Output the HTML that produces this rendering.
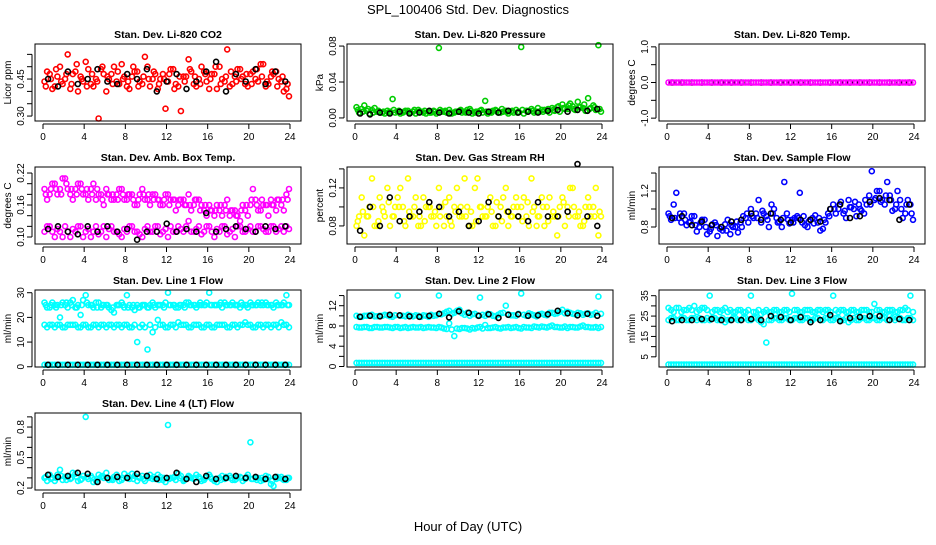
<!DOCTYPE html>
<html><head><meta charset="utf-8">
<style>
html,body{margin:0;padding:0;background:#fff;}
svg text{font-family:"Liberation Sans",Arial,sans-serif;}
</style></head>
<body>
<svg id="chart" width="936" height="540" viewBox="0 0 936 540" xmlns="http://www.w3.org/2000/svg">
<rect x="0" y="0" width="936" height="540" fill="#fff"/>
<text x="468" y="14" font-size="13" text-anchor="middle">SPL_100406  Std. Dev. Diagnostics</text>
<text x="468" y="531" font-size="13" text-anchor="middle">Hour of Day (UTC)</text>
</svg>
<script>
// ---- data ----
const xTicks = [0,4,8,12,16,20,24];
const co2Red1 = [0.44,0.47,0.42,0.50,0.45,0.41,0.48,0.46,0.52,0.43,0.45,0.49,0.40,0.47,0.44,0.51,0.42,0.46,0.48,0.43,0.50,0.45,0.41,0.47,0.44,0.49,0.42,0.46,0.53,0.43,0.45,0.48,0.41,0.47,0.50,0.44,0.42,0.46,0.49,0.43,0.47,0.45,0.51,0.42,0.46,0.48,0.44,0.41];
const co2Red2 = [0.48,0.41,0.46,0.43,0.55,0.47,0.40,0.44,0.49,0.42,0.29,0.47,0.45,0.50,0.43,0.46,0.41,0.48,0.44,0.54,0.42,0.47,0.45,0.33,0.49,0.43,0.32,0.46,0.48,0.42,0.50,0.44,0.47,0.41,0.45,0.57,0.43,0.49,0.46,0.42,0.48,0.44,0.51,0.43,0.47,0.45,0.40,0.38];
const co2Red3 = [0.42,0.45,0.49,0.44,0.47,0.43,0.51,0.45,0.42,0.47,0.44,0.50,0.46,0.43,0.48,0.45,0.44,0.50,0.42,0.46,0.45,0.48,0.43,0.45,0.47,0.41,0.46,0.44,0.49,0.46,0.43,0.47,0.45,0.50,0.43,0.46,0.48,0.44,0.45,0.47,0.43,0.49,0.46,0.44,0.48,0.42,0.46,0.43];
const co2Black = [0.45,0.42,0.48,0.43,0.45,0.49,0.44,0.43,0.47,0.45,0.49,0.40,0.44,0.47,0.41,0.44,0.48,0.52,0.40,0.47,0.44,0.49,0.43,0.48,0.44];
const presGreen1 = [0.012,0.010,0.008,0.009,0.007,0.006,0.008,0.021,0.007,0.006,0.008,0.007,0.009,0.006,0.007,0.008,0.078,0.007,0.009,0.006,0.008,0.007,0.010,0.006,0.008,0.019,0.007,0.009,0.006,0.008,0.007,0.009,0.079,0.008,0.010,0.007,0.009,0.008,0.011,0.012,0.015,0.010,0.013,0.018,0.011,0.022,0.014,0.081];
const presGreen2 = [0.006,0.014,0.005,0.011,0.006,0.005,0.007,0.006,0.005,0.008,0.006,0.005,0.007,0.005,0.006,0.005,0.007,0.006,0.005,0.007,0.006,0.009,0.005,0.007,0.006,0.005,0.008,0.006,0.007,0.005,0.006,0.007,0.005,0.008,0.006,0.007,0.009,0.006,0.008,0.007,0.010,0.016,0.009,0.012,0.008,0.011,0.009,0.007];
const presGreen3 = [0.009,0.007,0.010,0.006,0.008,0.007,0.006,0.009,0.008,0.007,0.006,0.009,0.007,0.008,0.006,0.007,0.009,0.008,0.006,0.007,0.009,0.006,0.008,0.007,0.009,0.007,0.006,0.008,0.010,0.007,0.008,0.006,0.009,0.007,0.008,0.011,0.007,0.010,0.009,0.013,0.011,0.014,0.010,0.012,0.015,0.010,0.012,0.010];
const presBlack = [0.005,0.004,0.006,0.005,0.007,0.005,0.006,0.008,0.006,0.005,0.007,0.006,0.005,0.007,0.006,0.008,0.006,0.007,0.006,0.008,0.009,0.007,0.009,0.008,0.010];
const tempMag = [0,0,0,0,0,0,0,0,0,0,0,0,0,0,0,0,0,0,0,0,0,0,0,0,0,0,0,0,0,0,0,0,0,0,0,0,0,0,0,0,0,0,0,0,0,0,0,0];
const tempBlack = [0,0,0,0,0,0,0,0,0,0,0,0,0,0,0,0,0,0,0,0,0,0,0,0,0];
const ambMag1 = [0.19,0.18,0.20,0.19,0.21,0.18,0.19,0.20,0.18,0.19,0.17,0.18,0.19,0.17,0.18,0.19,0.17,0.18,0.16,0.19,0.17,0.18,0.17,0.16,0.18,0.17,0.16,0.17,0.18,0.16,0.17,0.15,0.16,0.14,0.15,0.16,0.14,0.15,0.13,0.15,0.16,0.17,0.15,0.16,0.17,0.15,0.16,0.18];
const ambMag2 = [0.17,0.20,0.18,0.21,0.19,0.17,0.20,0.18,0.17,0.20,0.18,0.16,0.18,0.17,0.19,0.17,0.18,0.16,0.18,0.17,0.16,0.18,0.16,0.18,0.17,0.15,0.17,0.16,0.15,0.17,0.16,0.14,0.15,0.16,0.14,0.17,0.15,0.14,0.16,0.14,0.19,0.15,0.16,0.14,0.16,0.17,0.15,0.19];
const ambMag4 = [0.18,0.19,0.19,0.18,0.20,0.19,0.18,0.19,0.19,0.18,0.19,0.17,0.18,0.18,0.17,0.18,0.18,0.17,0.17,0.18,0.18,0.17,0.17,0.17,0.16,0.17,0.17,0.16,0.16,0.17,0.15,0.16,0.15,0.15,0.16,0.15,0.15,0.14,0.15,0.16,0.17,0.16,0.17,0.16,0.16,0.17,0.17,0.17];
const ambMag3 = [0.11,0.12,0.10,0.11,0.12,0.10,0.11,0.12,0.11,0.10,0.12,0.11,0.10,0.12,0.11,0.10,0.11,0.12,0.11,0.10,0.12,0.11,0.12,0.11,0.10,0.11,0.12,0.11,0.13,0.11,0.12,0.11,0.12,0.10,0.11,0.12,0.11,0.10,0.12,0.11,0.12,0.11,0.12,0.11,0.12,0.11,0.12,0.12];
const ambMag5 = [0.12,0.11,0.115,0.10,0.11,0.115,0.12,0.10,0.115,0.11,0.105,0.12,0.115,0.11,0.105,0.115,0.12,0.11,0.105,0.115,0.11,0.12,0.105,0.115,0.12,0.11,0.115,0.12,0.11,0.115,0.105,0.12,0.11,0.115,0.12,0.105,0.115,0.12,0.11,0.115,0.11,0.12,0.115,0.11,0.12,0.115,0.11,0.115];
const ambBlack = [0.115,0.12,0.11,0.105,0.12,0.11,0.12,0.11,0.115,0.095,0.11,0.11,0.125,0.11,0.115,0.11,0.145,0.11,0.115,0.12,0.115,0.11,0.12,0.115,0.12];
const rhYel1 = [0.08,0.11,0.09,0.13,0.08,0.10,0.12,0.09,0.11,0.10,0.13,0.09,0.08,0.11,0.10,0.09,0.12,0.08,0.11,0.10,0.09,0.13,0.08,0.12,0.10,0.09,0.11,0.08,0.10,0.12,0.09,0.11,0.10,0.09,0.13,0.08,0.11,0.10,0.09,0.07,0.11,0.10,0.12,0.09,0.08,0.11,0.10,0.07];
const rhYel2 = [0.09,0.07,0.10,0.08,0.11,0.09,0.08,0.10,0.12,0.08,0.09,0.11,0.08,0.10,0.09,0.08,0.10,0.09,0.08,0.12,0.09,0.10,0.08,0.13,0.09,0.10,0.08,0.09,0.11,0.08,0.10,0.09,0.11,0.08,0.10,0.09,0.08,0.11,0.09,0.10,0.08,0.12,0.09,0.08,0.10,0.09,0.12,0.09];
const rhYel3 = [0.085,0.095,0.09,0.10,0.085,0.095,0.105,0.09,0.10,0.085,0.095,0.10,0.09,0.085,0.10,0.095,0.09,0.105,0.085,0.095,0.10,0.09,0.095,0.085,0.10,0.09,0.095,0.105,0.085,0.095,0.09,0.10,0.085,0.105,0.095,0.09,0.10,0.085,0.095,0.09,0.105,0.09,0.10,0.095,0.085,0.10,0.09,0.095];
const rhBlack = [0.075,0.10,0.08,0.11,0.085,0.09,0.095,0.105,0.10,0.09,0.095,0.08,0.085,0.105,0.09,0.095,0.09,0.085,0.105,0.09,0.09,0.095,0.145,0.09,0.08];
const sfBlue1 = [0.95,1.05,0.90,0.95,0.85,0.92,0.80,0.88,0.75,0.85,0.78,0.83,0.72,0.80,0.85,0.90,1.00,0.95,0.85,0.92,1.05,0.90,0.80,0.95,0.88,0.92,0.85,0.80,0.90,0.85,0.78,0.95,1.05,1.00,0.95,1.10,1.00,1.05,0.95,1.15,1.10,1.20,1.05,1.15,1.00,1.10,0.95,1.05];
const sfBlue2 = [0.88,1.18,0.85,0.82,0.92,0.75,0.88,0.72,0.83,0.70,0.76,0.88,0.80,0.74,0.92,0.85,0.90,1.10,0.95,0.80,1.00,0.86,1.30,0.84,0.90,1.18,0.82,0.88,0.93,0.76,0.85,1.00,0.95,1.08,0.90,1.02,0.92,0.98,1.05,1.42,1.20,1.10,1.30,0.98,1.20,0.90,1.10,0.88];
const sfBlue3 = [0.92,0.90,0.95,0.88,0.86,0.82,0.85,0.80,0.78,0.82,0.80,0.76,0.82,0.86,0.80,0.95,0.92,0.90,0.98,0.88,0.95,0.85,0.90,0.88,0.85,0.90,0.92,0.86,0.84,0.90,0.88,0.92,1.00,1.05,0.98,1.02,1.08,1.00,1.10,1.05,1.12,1.08,1.15,1.10,1.05,1.00,1.05,0.95];
const sfBlack = [0.90,0.92,0.82,0.86,0.82,0.80,0.86,0.88,0.95,0.88,0.95,0.88,0.85,0.88,0.88,0.86,1.00,1.05,0.90,0.92,1.08,1.12,1.10,0.88,1.05];
const l1Cyan1 = [26,24,25,20,25,26,24,21,29,25,26,24,25,23,25,26,29,24,25,25,24,26,25,25,30,25,24,25,26,25,25,25,30,25,25,26,25,25,24,25,26,25,25,26,25,26,25,29];
const l1Cyan2 = [24,26,25,26,24,27,25,27,25,24,26,25,24,22,25,24,25,23,24,25,25,24,25,26,25,24,25,26,25,24,25,26,25,25,24,25,26,25,25,24,25,26,25,25,24,25,26,25];
const l1Cyan5 = [25,25,24,25,26,25,24,25,26,25,24,25,25,24,25,25,24,25,24,25,24,25,25,24,25,25,25,24,25,25,26,25,25,25,26,25,25,25,26,25,25,25,26,25,25,25,25,25];
const l1Cyan3 = [17,17,16,17,16,17,17,16,17,16,17,17,16,17,17,16,17,16,10,17,7,14,19,17,16,17,18,17,16,17,17,16,17,16,17,17,16,17,17,18,17,16,17,17,16,17,18,17];
const l1Cyan6 = [16,17,17,16,17,17,16,17,16,17,16,17,17,16,17,17,16,17,16,16,17,16,17,16,17,16,17,17,16,17,16,17,16,17,17,16,17,16,17,17,16,17,16,17,17,16,17,16];
const l1Cyan4 = [0.8,0.8,0.8,0.8,0.8,0.8,0.8,0.8,0.8,0.8,0.8,0.8,0.8,0.8,0.8,0.8,0.8,0.8,0.8,0.8,0.8,0.8,0.8,0.8,0.8,0.8,0.8,0.8,0.8,0.8,0.8,0.8,0.8,0.8,0.8,0.8,0.8,0.8,0.8,0.8,0.8,0.8,0.8,0.8,0.8,0.8,0.8,0.8];
const l1Black = [0.8,0.8,0.8,0.8,0.8,0.8,0.8,0.8,0.8,0.8,0.8,0.8,0.8,0.8,0.8,0.8,0.8,0.8,0.8,0.8,0.8,0.8,0.8,0.8,0.8];
const l2Cyan1 = [10,9.8,10,10.2,9.9,10,10.1,9.8,14,10,10.2,9.9,10,10.1,9.8,10,14,10.5,11,10.6,11.2,10.2,10,10.4,13.6,10,10.3,9.9,10.5,12,10.1,10,14.4,10,10.3,9.9,10.4,10.1,10.6,10.5,11.2,10.8,10.4,10.6,10.2,10.5,10.3,13.8];
const l2Cyan4 = [9.8,10,10.1,9.9,10,10.2,9.9,10.1,10,9.9,10,10.1,9.8,10,10.2,10.1,10.3,10.8,10.4,11,10.5,10.6,10.3,10.1,10.2,10.4,10,10.2,10.6,10.3,10.1,10.4,10.2,10.5,10.1,10.3,10.2,10.6,10.4,10.8,10.5,10.6,10.3,10.5,10.4,10.2,10.6,10.4];
const l2Cyan2 = [7.8,7.7,7.8,7.6,7.8,7.7,7.8,7.6,7.8,7.7,7.6,7.8,7.7,7.6,7.8,7.7,7.8,7.5,8.5,6,7.4,7.6,7.3,7.5,7.8,8.2,7.6,7.8,7.5,7.7,7.6,7.8,7.5,7.7,7.6,7.8,7.9,7.7,8.1,7.8,7.7,7.6,7.8,7.7,8.1,7.8,7.7,7.6];
const l2Cyan5 = [7.7,7.8,7.6,7.8,7.7,7.8,7.7,7.8,7.6,7.8,7.7,7.7,7.8,7.7,7.7,7.6,7.7,7.4,7.3,7.5,7.6,7.5,7.6,7.7,7.5,7.6,7.7,7.6,7.7,7.8,7.7,7.6,7.8,7.7,7.9,7.7,7.8,7.9,7.8,7.7,7.9,7.8,7.7,7.9,7.8,7.7,7.8,7.8];
const l2Cyan3 = [0.7,0.7,0.7,0.7,0.7,0.7,0.7,0.7,0.7,0.7,0.7,0.7,0.7,0.7,0.7,0.7,0.7,0.7,0.7,0.7,0.7,0.7,0.7,0.7,0.7,0.7,0.7,0.7,0.7,0.7,0.7,0.7,0.7,0.7,0.7,0.7,0.7,0.7,0.7,0.7,0.7,0.7,0.7,0.7,0.7,0.7,0.7,0.7];
const l2Black = [9.8,10,9.9,10.2,10.1,9.9,9.8,10,10.4,9.7,10.9,10.6,10,10.3,9.6,10.2,10.3,10,10.1,10.3,11,10.5,10.1,10.4,10];
const l3Cyan1 = [29,27,29,28,29,30,28,29,35,28,27,29,28,27,28,27,35,27,26,28,27,28,27,28,36,28,27,28,27,28,27,28,35,27,28,27,28,27,28,27,31,28,27,28,27,28,29,35];
const l3Cyan4 = [28,29,27,28,28,27,29,28,27,28,28,27,27,28,27,28,27,28,27,27,28,27,28,27,28,27,28,28,27,28,28,27,28,28,27,28,27,28,28,27,28,27,28,28,27,28,28,27];
const l3Cyan2 = [23,24,23,24,23,24,24,23,23,24,23,22,23,24,23,24,23,24,22,12,23,24,23,24,23,24,23,24,23,24,23,24,23,24,23,22,24,23,24,23,24,23,24,25,23,24,23,24];
const l3Cyan5 = [24,23,24,23,24,23,23,24,24,23,24,23,24,23,24,23,24,23,21,23,24,23,24,23,24,23,24,23,24,23,24,23,24,23,24,23,23,24,23,24,23,24,23,24,24,23,24,23];
const l3Cyan3 = [1.2,1.2,1.2,1.2,1.2,1.2,1.2,1.2,1.2,1.2,1.2,1.2,1.2,1.2,1.2,1.2,1.2,1.2,1.2,1.2,1.2,1.2,1.2,1.2,1.2,1.2,1.2,1.2,1.2,1.2,1.2,1.2,1.2,1.2,1.2,1.2,1.2,1.2,1.2,1.2,1.2,1.2,1.2,1.2,1.2,1.2,1.2,1.2];
const l3Black = [22.5,23,23,23.5,23.5,23,23,23,23.5,23,25,24.5,23,24.5,22,23,25.5,22.5,24,24.5,25,25,23,23.5,23];
const l4Cyan1 = [0.30,0.33,0.27,0.38,0.31,0.29,0.34,0.28,0.90,0.32,0.27,0.31,0.35,0.29,0.33,0.28,0.30,0.34,0.27,0.32,0.31,0.29,0.33,0.28,0.82,0.30,0.34,0.27,0.32,0.29,0.31,0.28,0.33,0.27,0.30,0.29,0.32,0.28,0.31,0.29,0.65,0.30,0.27,0.32,0.24,0.29,0.31,0.28];
const l4Cyan2 = [0.27,0.30,0.33,0.28,0.31,0.35,0.27,0.32,0.29,0.26,0.33,0.30,0.28,0.31,0.27,0.34,0.29,0.32,0.30,0.27,0.33,0.29,0.31,0.26,0.30,0.28,0.32,0.29,0.30,0.33,0.27,0.31,0.29,0.26,0.32,0.30,0.28,0.31,0.27,0.33,0.29,0.30,0.28,0.31,0.22,0.30,0.28,0.30];
const l4Cyan3 = [0.31,0.29,0.30,0.32,0.28,0.30,0.31,0.29,0.31,0.30,0.29,0.32,0.30,0.28,0.31,0.30,0.32,0.29,0.31,0.29,0.30,0.31,0.28,0.30,0.29,0.31,0.30,0.28,0.31,0.30,0.29,0.30,0.31,0.29,0.28,0.31,0.30,0.29,0.30,0.31,0.29,0.28,0.30,0.29,0.27,0.31,0.29,0.30];
const l4Black = [0.33,0.31,0.32,0.35,0.34,0.26,0.30,0.31,0.30,0.34,0.32,0.29,0.30,0.35,0.29,0.26,0.32,0.29,0.30,0.32,0.30,0.31,0.29,0.31,0.29];

const co2YTicks = [0.30,0.35,0.40,0.45,0.50,0.55], co2YLabels = ["0.30","","","0.45","",""];
const presYTicks = [0.00,0.04,0.08], presYLabels = ["0.00","0.04","0.08"];
const tempYTicks = [-1,-0.5,0,0.5,1], tempYLabels = ["-1.0","","0.0","","1.0"];
const ambYTicks = [0.10,0.12,0.14,0.16,0.18,0.20,0.22], ambYLabels = ["0.10","","","0.16","","","0.22"];
const rhYTicks = [0.08,0.10,0.12,0.14], rhYLabels = ["0.08","","0.12",""];
const sfYTicks = [0.8,1.0,1.2,1.4], sfYLabels = ["0.8","","1.2",""];
const l1YTicks = [0,10,20,30], l1YLabels = ["0","10","20","30"];
const l2YTicks = [0,2,4,6,8,10,12,14], l2YLabels = ["0","","4","","8","","12",""];
const l3YTicks = [5,10,15,20,25,30,35], l3YLabels = ["5","","15","","25","","35"];
const l4YTicks = [0.2,0.3,0.4,0.5,0.6,0.7,0.8,0.9], l4YLabels = ["0.2","","","0.5","","","0.8",""];

// ---- layout ----
const NS = "http://www.w3.org/2000/svg";
const svg = document.getElementById('chart');
function mk(tag, attrs, parent){
  const e = document.createElementNS(NS, tag);
  for (const k in attrs) e.setAttribute(k, attrs[k]);
  (parent||svg).appendChild(e); return e;
}
const RED='#ff0000', GRN='#00cc00', MAG='#ff00ff', YEL='#ffff00', BLU='#0000ff', CYN='#00ffff', BLK='#000';
const panels = [
 {name:'co2',title:'Stan. Dev. Li-820 CO2',ylab:'Licor ppm',col:0,row:0,ymin:0.28,ymax:0.592,yt:co2YTicks,yl:co2YLabels,series:[[co2Red1,RED,0],[co2Red2,RED,0.25],[co2Red3,RED,0.12],[co2Black,BLK,0]]},
 {name:'pressure',title:'Stan. Dev. Li-820 Pressure',ylab:'kPa',col:1,row:0,ymin:-0.0034,ymax:0.0823,yt:presYTicks,yl:presYLabels,series:[[presGreen1,GRN,0],[presGreen2,GRN,0.25],[presGreen3,GRN,0.12],[presBlack,BLK,0]]},
 {name:'temp',title:'Stan. Dev. Li-820 Temp.',ylab:'degrees C',col:2,row:0,ymin:-1.08,ymax:1.08,yt:tempYTicks,yl:tempYLabels,series:[[tempBlack,BLK,0],[tempMag,MAG,0],[tempMag,MAG,0.25]]},
 {name:'amb-box',title:'Stan. Dev. Amb. Box Temp.',ylab:'degrees C',col:0,row:1,ymin:0.0869,ymax:0.2313,yt:ambYTicks,yl:ambYLabels,series:[[ambMag1,MAG,0],[ambMag2,MAG,0.25],[ambMag4,MAG,0.12],[ambMag3,MAG,0],[ambMag5,MAG,0.25],[ambBlack,BLK,0]]},
 {name:'rh',title:'Stan. Dev. Gas Stream RH',ylab:'percent',col:1,row:1,ymin:0.061,ymax:0.142,yt:rhYTicks,yl:rhYLabels,series:[[rhYel1,YEL,0],[rhYel2,YEL,0.25],[rhYel3,YEL,0.12],[rhBlack,BLK,0]]},
 {name:'sample-flow',title:'Stan. Dev. Sample Flow',ylab:'ml/min',col:2,row:1,ymin:0.611,ymax:1.467,yt:sfYTicks,yl:sfYLabels,series:[[sfBlue1,BLU,0],[sfBlue2,BLU,0.25],[sfBlue3,BLU,0.12],[sfBlack,BLK,0]]},
 {name:'line1',title:'Stan. Dev. Line 1 Flow',ylab:'ml/min',col:0,row:2,ymin:-0.1,ymax:31.1,yt:l1YTicks,yl:l1YLabels,series:[[l1Cyan1,CYN,0],[l1Cyan2,CYN,0.25],[l1Cyan5,CYN,0.12],[l1Cyan3,CYN,0],[l1Cyan6,CYN,0.25],[l1Cyan4,CYN,0],[l1Cyan4,CYN,0.25],[l1Black,BLK,0]]},
 {name:'line2',title:'Stan. Dev. Line 2 Flow',ylab:'ml/min',col:1,row:2,ymin:-0.1,ymax:15.1,yt:l2YTicks,yl:l2YLabels,series:[[l2Cyan1,CYN,0],[l2Cyan4,CYN,0.25],[l2Cyan2,CYN,0],[l2Cyan5,CYN,0.25],[l2Cyan3,CYN,0],[l2Cyan3,CYN,0.25],[l2Black,BLK,0]]},
 {name:'line3',title:'Stan. Dev. Line 3 Flow',ylab:'ml/min',col:2,row:2,ymin:0,ymax:37.8,yt:l3YTicks,yl:l3YLabels,series:[[l3Cyan1,CYN,0],[l3Cyan4,CYN,0.25],[l3Cyan2,CYN,0],[l3Cyan5,CYN,0.25],[l3Cyan3,CYN,0],[l3Cyan3,CYN,0.25],[l3Black,BLK,0]]},
 {name:'line4',title:'Stan. Dev. Line 4 (LT) Flow',ylab:'ml/min',col:0,row:3,ymin:0.181,ymax:0.938,yt:l4YTicks,yl:l4YLabels,series:[[l4Cyan1,CYN,0],[l4Cyan2,CYN,0.25],[l4Cyan3,CYN,0.12],[l4Black,BLK,0]]}
];

panels.forEach(p=>{
  const L = 35 + p.col*312, R = L+266, T = 44 + p.row*123, B = T+77;
  const x0 = L+8, x24 = L+255;
  const xs = h => x0 + (x24-x0)*h/24;
  const ys = v => B - (v-p.ymin)/(p.ymax-p.ymin)*(B-T);
  const g = mk('g',{});
  
  
  const t = mk('text',{x:(L+R)/2,y:T-6,'font-size':10.5,'font-weight':'bold','text-anchor':'middle'},g);
  t.textContent = p.title;
  
  
  const pts = mk('g',{fill:'none','stroke-width':1.6},g);
  
  
  p.series.forEach(([arr,color,off])=>{
    const n = arr.length;
    arr.forEach((v,i)=>{
      const h = n>30 ? 0.15 + i*0.5 + off : 0.5 + i*0.96;
      const c = mk('circle',{cx:xs(h).toFixed(1),cy:ys(v).toFixed(1),r:2.5,stroke:color},pts);
      
      
    });
  });
  const box = mk('rect',{x:L,y:T,width:R-L,height:B-T,fill:'none',stroke:'#000','stroke-width':1},g);
  
  
  const xa = mk('g',{},g);
  
  
  mk('line',{x1:xs(0),x2:xs(24),y1:B+3,y2:B+3,stroke:'#000'},xa);
  xTicks.forEach(h=>{
    mk('line',{x1:xs(h),x2:xs(h),y1:B+3,y2:B+8,stroke:'#000'},xa);
    const tl = mk('text',{x:xs(h),y:B+19,'font-size':10,'text-anchor':'middle'},xa);
    tl.textContent = h;
  });
  const ya = mk('g',{},g);
  
  
  mk('line',{x1:L-3,x2:L-3,y1:ys(p.yt[0]),y2:ys(p.yt[p.yt.length-1]),stroke:'#000'},ya);
  p.yt.forEach((v,i)=>{
    const y = ys(v);
    mk('line',{x1:L-3,x2:L-8,y1:y,y2:y,stroke:'#000'},ya);
    if (p.yl[i]) {
      const tl = mk('text',{x:L-11,y:y,'font-size':10,'text-anchor':'middle',transform:`rotate(-90 ${L-11} ${y})`},ya);
      tl.textContent = p.yl[i];
    }
  });
  const yt = mk('text',{x:L-24,y:(T+B)/2,'font-size':10,'text-anchor':'middle',transform:`rotate(-90 ${L-24} ${(T+B)/2})`},ya);
  yt.textContent = p.ylab;
  
  
});
</script>
</body></html>
